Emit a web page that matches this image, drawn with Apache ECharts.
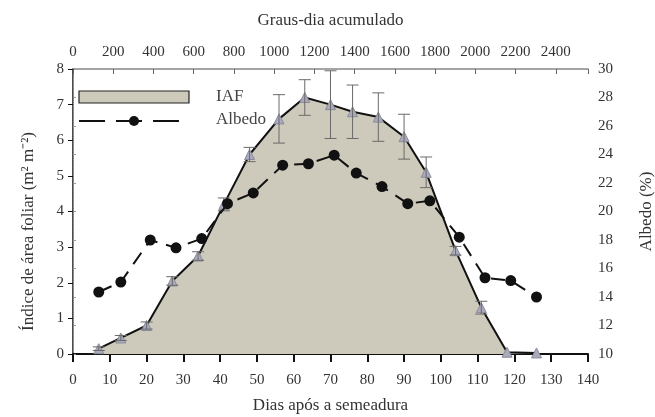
<!DOCTYPE html>
<html>
<head>
<meta charset="utf-8">
<script src="https://cdn.jsdelivr.net/npm/echarts@6/dist/echarts.min.js"></script>
<style>
  html, body { margin: 0; padding: 0; background: #fff; }
  #chart { width: 655px; height: 417px; }
</style>
</head>
<body>
<div id="chart"></div>
<script>
// dados
const diasIAF = [7, 13, 20, 27, 34, 41, 48, 56, 63, 70, 76, 83, 90, 96, 104, 111, 118, 126];
const valoresIAF = [0.15, 0.45, 0.8, 2.05, 2.75, 4.2, 5.6, 6.6, 7.2, 7.0, 6.8, 6.65, 6.1, 5.1, 2.9, 1.3, 0.05, 0.03];
const erroIAF = [0.05, 0.07, 0.1, 0.12, 0.12, 0.18, 0.2, 0.68, 0.5, 0.95, 0.75, 0.68, 0.63, 0.43, 0.12, 0.18, 0, 0];

const diasAlbedo = [7, 13, 21, 28, 35, 42, 49, 57, 64, 71, 77, 84, 91, 97, 105, 112, 119, 126];
const valoresAlbedo = [14.35, 15.05, 18.0, 17.45, 18.1, 20.55, 21.3, 23.25, 23.35, 23.95, 22.7, 21.75, 20.55, 20.75, 18.2, 15.35, 15.15, 14.0];

const ticksGrausDia = [0, 200, 400, 600, 800, 1000, 1200, 1400, 1600, 1800, 2000, 2200, 2400];

const fonte = 'Liberation Serif';
const corTexto = '#333';

const chart = echarts.init(document.getElementById('chart'));

chart.setOption({
    backgroundColor: '#fff',
    animation: false,
    textStyle: { fontFamily: fonte },
    grid: { left: 73, right: 67, top: 69, bottom: 63, outerBoundsMode: 'none' },
    xAxis: [
        {
            type: 'value', min: 0, max: 140, interval: 10,
            name: 'Dias após a semeadura', nameLocation: 'middle', nameGap: 43,
            nameTextStyle: { fontFamily: fonte, fontSize: 17, color: corTexto },
            axisLine: { lineStyle: { color: '#111', width: 2 } },
            axisTick: { inside: false, length: 8, lineStyle: { color: '#111', width: 2 } },
            axisLabel: { fontFamily: fonte, fontSize: 15, color: corTexto, margin: 19 },
            splitLine: { show: false }
        },
        {
            type: 'value', position: 'top', min: 0, max: 2560, interval: 200,
            name: 'Graus-dia acumulado', nameLocation: 'middle', nameGap: 40,
            nameTextStyle: { fontFamily: fonte, fontSize: 17, color: corTexto },
            axisLine: { lineStyle: { color: '#888', width: 1.5 } },
            axisTick: { inside: true, length: 5, lineStyle: { color: '#666' } },
            axisLabel: {
                fontFamily: fonte, fontSize: 15, color: corTexto, margin: 9,
                formatter: v => ticksGrausDia.indexOf(v) >= 0 ? String(v) : ''
            },
            splitLine: { show: false }
        }
    ],
    yAxis: [
        {
            type: 'value', min: 0, max: 8, interval: 1,
            name: 'Índice de área foliar (m² m⁻²)', nameLocation: 'middle', nameGap: 36,
            nameTextStyle: { fontFamily: fonte, fontSize: 17, color: corTexto, padding: [0, 40, 0, 0] },
            axisLine: { show: true, lineStyle: { color: '#111', width: 1.5 } },
            axisTick: { show: true, inside: false, length: 5, lineStyle: { color: '#111' } },
            axisLabel: { fontFamily: fonte, fontSize: 15, color: corTexto, margin: 9 },
            splitLine: { show: false }
        },
        {
            type: 'value', min: 10, max: 30, interval: 2, position: 'right',
            name: 'Albedo (%)', nameLocation: 'middle', nameGap: 50, nameRotate: 90,
            nameTextStyle: { fontFamily: fonte, fontSize: 17, color: corTexto },
            axisLine: { show: true, lineStyle: { color: '#999', width: 1, type: 'dotted' } },
            axisTick: { show: true, inside: false, length: 3, lineStyle: { color: '#999' } },
            axisLabel: { fontFamily: fonte, fontSize: 15, color: corTexto, margin: 10 },
            splitLine: { show: false }
        }
    ],
    graphic: [
        // legenda
        { type: 'rect', shape: { x: 79, y: 91, width: 110, height: 12 },
          style: { fill: '#cdcabb', stroke: '#222', lineWidth: 1.2 } },
        { type: 'text', left: 216, top: 88,
          style: { text: 'IAF', font: '17px "Liberation Serif"', fill: '#444' } },
        { type: 'line', shape: { x1: 79, y1: 121, x2: 180, y2: 121 },
          style: { stroke: '#111', lineWidth: 2, lineDash: [26, 11] } },
        { type: 'circle', shape: { cx: 134, cy: 121, r: 5 }, style: { fill: '#111' } },
        { type: 'text', left: 216, top: 111,
          style: { text: 'Albedo', font: '17px "Liberation Serif"', fill: '#444' } }
    ],
    series: [
        {
            name: 'IAF', type: 'line', xAxisIndex: 0, yAxisIndex: 0,
            data: diasIAF.map((d, i) => [d, valoresIAF[i]]),
            lineStyle: { color: '#111', width: 2 },
            areaStyle: { color: '#cdcabb', opacity: 1 },
            symbol: 'triangle', symbolSize: 10,
            itemStyle: { color: '#aaaabd', borderColor: '#8a8a9a', borderWidth: 1 },
            z: 2
        },
        {
            name: 'erro', type: 'custom', xAxisIndex: 0, yAxisIndex: 0,
            data: diasIAF.map((d, i) => [d, valoresIAF[i] - erroIAF[i], valoresIAF[i] + erroIAF[i]])
                .filter((p, i) => erroIAF[i] > 0),
            encode: { x: 0, y: [1, 2] },
            renderItem: function (params, api) {
                const x = api.value(0);
                const lo = api.coord([x, api.value(1)]);
                const hi = api.coord([x, api.value(2)]);
                const w = 6;
                const estilo = { stroke: '#6a6a6a', lineWidth: 1 };
                return {
                    type: 'group',
                    children: [
                        { type: 'line', shape: { x1: lo[0], y1: lo[1], x2: hi[0], y2: hi[1] }, style: estilo },
                        { type: 'line', shape: { x1: lo[0] - w, y1: lo[1], x2: lo[0] + w, y2: lo[1] }, style: estilo },
                        { type: 'line', shape: { x1: hi[0] - w, y1: hi[1], x2: hi[0] + w, y2: hi[1] }, style: estilo }
                    ]
                };
            },
            z: 4
        },
        {
            name: 'Albedo', type: 'line', xAxisIndex: 0, yAxisIndex: 1,
            data: diasAlbedo.map((d, i) => [d, valoresAlbedo[i]]),
            lineStyle: { color: '#111', width: 2, type: [14, 9] },
            symbol: 'circle', symbolSize: 11,
            itemStyle: { color: '#111' },
            z: 5
        }
    ]
});
</script>
</body>
</html>
